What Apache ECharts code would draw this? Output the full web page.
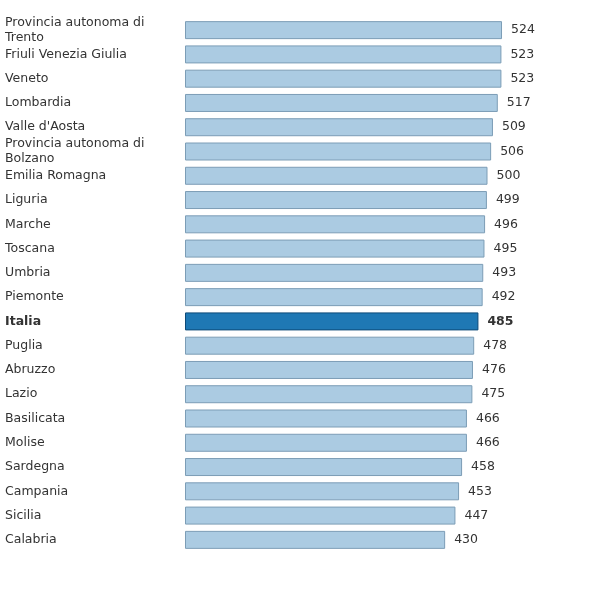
<!DOCTYPE html>
<html>
<head>
<meta charset="utf-8">
<script src="https://cdn.jsdelivr.net/npm/echarts@6/dist/echarts.min.js"></script>
<style>
  html, body { margin: 0; padding: 0; background: #fff; }
  #chart { width: 600px; height: 601px; }
</style>
</head>
<body>
<div id="chart"></div>
<script>
  // regioni e punteggi
  var regioni = ['Provincia autonoma di\nTrento', 'Friuli Venezia Giulia', 'Veneto', 'Lombardia',
    "Valle d'Aosta", 'Provincia autonoma di\nBolzano', 'Emilia Romagna', 'Liguria', 'Marche',
    'Toscana', 'Umbria', 'Piemonte', 'Italia', 'Puglia', 'Abruzzo', 'Lazio', 'Basilicata',
    'Molise', 'Sardegna', 'Campania', 'Sicilia', 'Calabria'];
  var punteggi = [524, 523, 523, 517, 509, 506, 500, 499, 496, 495, 493, 492, 485, 478, 476,
    475, 466, 466, 458, 453, 447, 430];
  var evidenza = 'Italia';

  var myChart = echarts.init(document.getElementById('chart'));

  var dati = punteggi.map(function (v, i) {
    var it = regioni[i] === evidenza;
    return {
      value: v,
      itemStyle: it ? { color: '#1f78b4', borderColor: '#0d4a78' } : {},
      label: it ? { fontWeight: 'bold' } : {}
    };
  });

  var option = {
    animation: false,
    grid: { left: 185, top: 18, width: 363, bottom: 49, containLabel: false },
    xAxis: {
      type: 'value', min: 0, max: 600,
      show: false
    },
    yAxis: {
      type: 'category',
      inverse: true,
      data: regioni,
      axisLine: { show: false },
      axisTick: { show: false },
      axisLabel: {
        align: 'left',
        margin: 180,
        fontFamily: 'DejaVu Sans',
        fontSize: 12.5,
        color: '#333',
        lineHeight: 15,
        formatter: function (v) {
          return v === evidenza ? '{b|' + v + '}' : v;
        },
        rich: { b: { fontWeight: 'bold', fontFamily: 'DejaVu Sans', fontSize: 12.5, color: '#333' } }
      }
    },
    series: [{
      type: 'bar',
      barWidth: 18,
      data: dati,
      itemStyle: { color: '#abcbe2', borderColor: '#7c9db6', borderWidth: 1 },
      label: {
        show: true,
        position: 'right',
        distance: 9,
        fontFamily: 'DejaVu Sans',
        fontSize: 12.5,
        color: '#333'
      }
    }]
  };
  myChart.setOption(option, true);
</script>
</body>
</html>
